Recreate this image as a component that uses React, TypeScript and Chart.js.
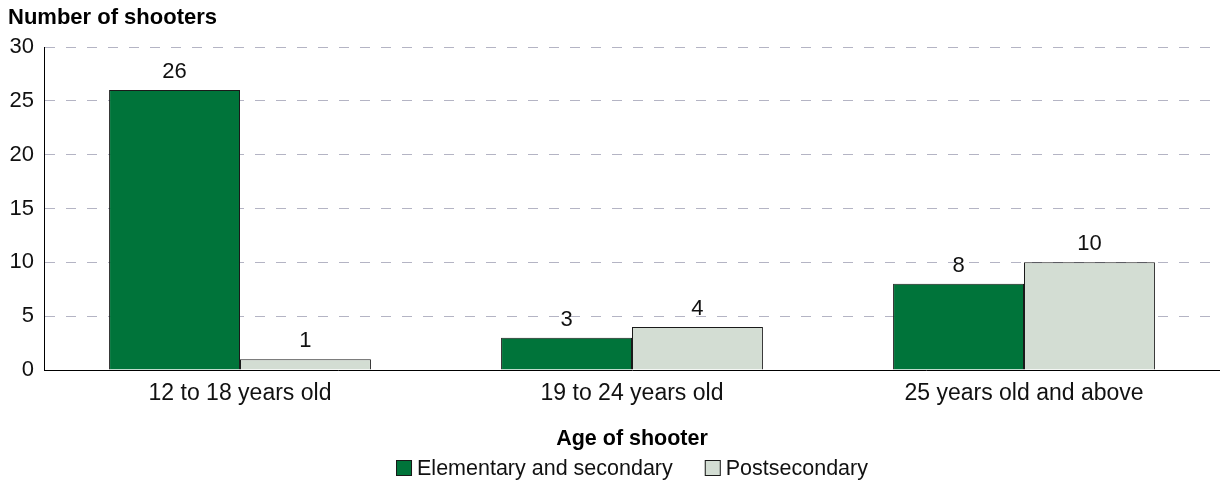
import React, { useEffect, useRef } from "react";
import { Chart, registerables } from "chart.js";

Chart.register(...registerables);

const categories = ["12 to 18 years old", "19 to 24 years old", "25 years old and above"];
const elementarySecondary = [26, 3, 8];
const postsecondary = [1, 4, 10];
const seriesNames = ["Elementary and secondary", "Postsecondary"];
const yTitle = "Number of shooters";
const xTitle = "Age of shooter";

const FONT = "'Liberation Sans', Arial, Helvetica, sans-serif";

const labelPlugin = {
  id: "valueLabels",
  afterDatasetsDraw(chart: any) {
    const ctx = chart.ctx;
    ctx.save();
    ctx.font = `22px ${FONT}`;
    ctx.fillStyle = "#111";
    ctx.textAlign = "center";
    ctx.textBaseline = "middle";
    chart.data.datasets.forEach((ds: any, di: number) => {
      const meta = chart.getDatasetMeta(di);
      meta.data.forEach((el: any, i: number) => {
        ctx.fillText(String(ds.data[i]), el.x, el.y - 18);
      });
    });
    ctx.restore();
  },
};

const titlePlugin = {
  id: "yTitle",
  afterDraw(chart: any) {
    const ctx = chart.ctx;
    ctx.save();
    ctx.font = `bold 22px ${FONT}`;
    ctx.fillStyle = "#000";
    ctx.textAlign = "left";
    ctx.textBaseline = "middle";
    ctx.fillText(yTitle, 8, 18);
    ctx.restore();
  },
};

const legendPlugin = {
  id: "customLegend",
  afterDraw(chart: any) {
    const ctx = chart.ctx;
    const box = 16;
    const textGap = 5;
    const itemGap = 32;
    const y = 468;
    ctx.save();
    ctx.font = `21.5px ${FONT}`;
    ctx.textBaseline = "middle";
    ctx.textAlign = "left";
    const items = chart.data.datasets.map((ds: any) => ({
      text: ds.label,
      fill: ds.backgroundColor,
      stroke: ds.borderColor,
      w: ctx.measureText(ds.label).width,
    }));
    const total =
      items.reduce((s: number, it: any) => s + box + textGap + it.w, 0) + itemGap * (items.length - 1);
    const ca = chart.chartArea;
    let x = (ca.left + ca.right) / 2 - total / 2;
    items.forEach((it: any) => {
      ctx.fillStyle = it.fill;
      ctx.fillRect(x, y - box / 2, box, box);
      ctx.strokeStyle = it.stroke;
      ctx.lineWidth = 1;
      ctx.strokeRect(x + 0.5, y - box / 2 + 0.5, box - 1, box - 1);
      ctx.fillStyle = "#111";
      ctx.fillText(it.text, x + box + textGap, y + 1);
      x += box + textGap + it.w + itemGap;
    });
    ctx.restore();
  },
};

export default function App() {
  const ref = useRef<HTMLCanvasElement>(null);
  useEffect(() => {
    document.body.style.margin = "0";
    const chart = new Chart(ref.current!, {
      type: "bar",
      data: {
        labels: categories,
        datasets: [
          {
            label: seriesNames[0],
            data: elementarySecondary,
            backgroundColor: "#00743A",
            borderColor: "#1a1a1a",
            borderWidth: 1,
            categoryPercentage: 0.668,
            barPercentage: 1,
          },
          {
            label: seriesNames[1],
            data: postsecondary,
            backgroundColor: "#D3DDD3",
            borderColor: "#1a1a1a",
            borderWidth: 1,
            categoryPercentage: 0.668,
            barPercentage: 1,
          },
        ],
      },
      options: {
        responsive: false,
        animation: false,
        layout: { padding: { top: 47, left: 0, right: 0, bottom: 37 } },
        plugins: {
          title: { display: false },
          tooltip: { enabled: false },
          legend: { display: false },
        },
        scales: {
          x: {
            grid: { display: false, drawTicks: false },
            border: { display: true, color: "#000", width: 1 },
            ticks: { color: "#111", font: { family: FONT, size: 23 }, padding: 10 },
            title: {
              display: true,
              text: xTitle,
              color: "#000",
              font: { family: FONT, size: 21.5, weight: "bold" },
              padding: { top: 0, bottom: 0 },
            },
            afterFit: (scale: any) => {
              scale.height = 82;
            },
          },
          y: {
            min: 0,
            max: 30,
            ticks: { stepSize: 5, color: "#111", font: { family: FONT, size: 22 }, padding: 10 },
            grid: { color: "#b4b4c4", lineWidth: 1, drawTicks: false },
            border: { display: true, color: "#000", width: 1, dash: [10, 11] },
            afterFit: (scale: any) => {
              scale.width = 44;
            },
          },
        },
      },
      plugins: [labelPlugin, titlePlugin, legendPlugin],
    });
    return () => chart.destroy();
  }, []);
  return (
    <div style={{ width: 1220, height: 489 }}>
      <canvas ref={ref} width={1220} height={489} />
    </div>
  );
}
